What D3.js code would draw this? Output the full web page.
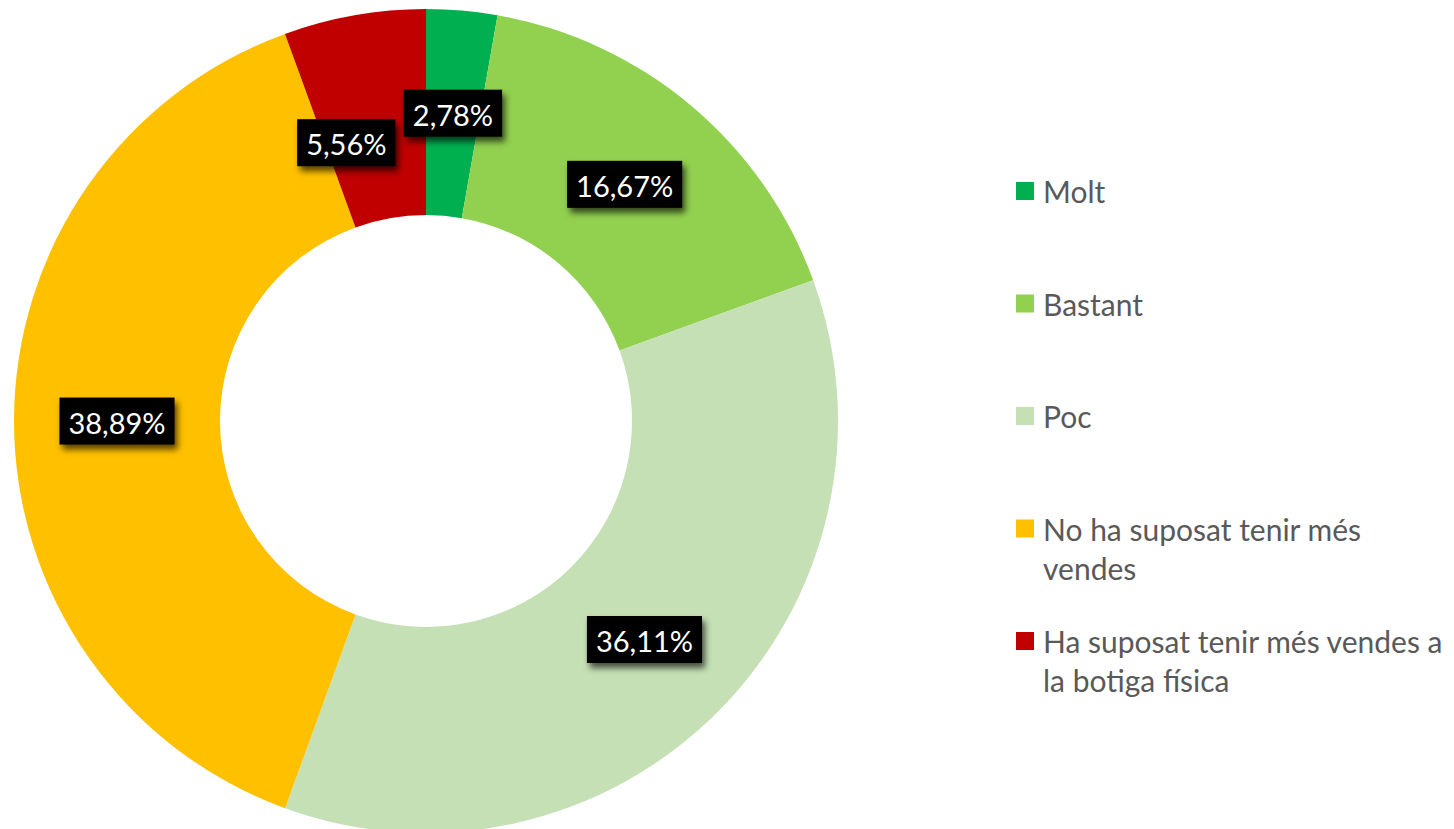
<!DOCTYPE html>
<html><head><meta charset="utf-8">
<script src="https://cdn.jsdelivr.net/npm/d3@7"></script>
<style>html,body{margin:0;padding:0;background:#fff;}svg{display:block;}</style>
</head><body>
<svg id="chart" width="1454" height="829"></svg>
<script>
const categories = ["Molt", "Bastant", "Poc", "No ha suposat tenir més vendes", "Ha suposat tenir més vendes a la botiga física"];
const values = [2.78, 16.67, 36.11, 38.89, 5.56];
const labels = ["2,78%", "16,67%", "36,11%", "38,89%", "5,56%"];
const colors = ["#00B050", "#92D050", "#C5E0B4", "#FFC000", "#C00000"];

const svg = d3.select("#chart");
const cx = 426, cy = 421, outerR = 412, innerR = 206;
const FONT = "Lato, 'Open Sans', sans-serif";

const defs = svg.append("defs");
const f = defs.append("filter").attr("id","shadow").attr("x","-30%").attr("y","-30%").attr("width","160%").attr("height","170%");
f.append("feDropShadow").attr("dx",3).attr("dy",5).attr("stdDeviation",3).attr("flood-color","#000").attr("flood-opacity",0.65);

const pie = d3.pie().sort(null).value(d => d);
const arcs = pie(values);
const arc = d3.arc().innerRadius(innerR).outerRadius(outerR);
const g = svg.append("g").attr("transform", `translate(${cx},${cy})`);
g.selectAll("path.slice").data(arcs).join("path").attr("class","slice")
  .attr("d", arc).attr("fill", (d,i) => colors[i]);

// labels
const lg = g.append("g");
const placed = [];
arcs.forEach((d,i) => {
  let [x,y] = arc.centroid(d);
  const grp = lg.append("g");
  const t = grp.append("text").text(labels[i]).attr("font-family", FONT).attr("font-size", 29)
    .attr("fill","#fff").attr("text-anchor","middle").attr("dominant-baseline","central");
  const w = t.node().getComputedTextLength() + 18, h = 47;
  let box = {x: x - w/2, y: y - h/2, w, h};
  const overlaps = b => placed.some(p => b.x < p.x + p.w && b.x + b.w > p.x && b.y < p.y + p.h && b.y + b.h > p.y);
  let tries = 0;
  while (overlaps(box) && tries < 100) { x -= 1; y += 1; box = {x: x - w/2, y: y - h/2, w, h}; tries++; }
  if (tries > 0) { x -= 8; y += 8; box = {x: x - w/2, y: y - h/2, w, h}; }
  placed.push(box);
  grp.insert("rect","text").attr("x", x - w/2).attr("y", y - h/2).attr("width", w).attr("height", h)
    .attr("fill","#000").attr("filter","url(#shadow)");
  t.attr("x", x).attr("y", y + 1);
});

// legend
const legX = 1016, legY0 = 191, legStep = 112.5, lineH = 39, maxW = 400;
const leg = svg.append("g");
categories.forEach((c,i) => {
  const y = legY0 + i*legStep;
  leg.append("rect").attr("x", legX).attr("y", y - 9).attr("width", 18).attr("height", 18).attr("fill", colors[i]);
  const t = leg.append("text").attr("font-family", FONT).attr("font-size", 30).attr("fill","#595959")
    .attr("x", legX + 27).attr("y", y).attr("dominant-baseline","central");
  const words = c.split(" ");
  let line = [];
  let ts = t.append("tspan").attr("x", legX + 27).attr("dy", 0);
  words.forEach(w => {
    line.push(w);
    ts.text(line.join(" "));
    if (ts.node().getComputedTextLength() > maxW && line.length > 1) {
      line.pop(); ts.text(line.join(" "));
      line = [w];
      ts = t.append("tspan").attr("x", legX + 27).attr("dy", lineH).text(w);
    }
  });
});
</script>
</body></html>
